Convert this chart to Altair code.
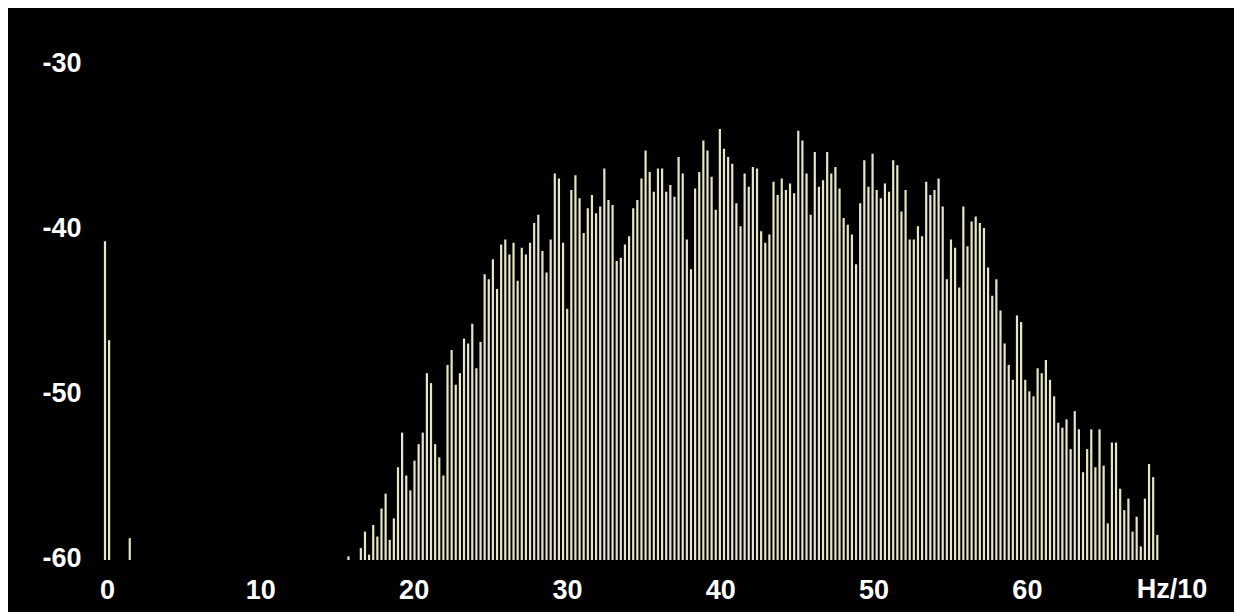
import altair as alt
import pandas as pd

# FFT bin indices (resolution 44100/16384 Hz per bin) and levels in dB
low_bins = [0, 1, 6, 59]
low_db = [-40.8, -46.8, -58.8, -59.9]

cluster_start = 62
cluster_db = [
    -59.4, -58.4, -59.8, -58.0, -58.7, -57.0, -56.1, -58.9, -57.6, -54.5,   # 62-71
    -52.4, -55.0, -55.9, -54.1, -53.1, -52.4, -48.8, -49.4, -53.1, -53.9,   # 72-81
    -55.0, -48.3, -47.4, -49.5, -48.8, -46.7, -47.0, -45.8, -48.5, -46.9,   # 82-91
    -42.8, -43.1, -41.9, -43.7, -41.0, -40.7, -41.6, -40.9, -43.2, -41.2,   # 92-101
    -41.6, -40.9, -39.7, -39.2, -41.4, -42.7, -40.7, -36.7, -37.0, -40.9,   # 102-111
    -44.9, -37.7, -36.8, -38.2, -40.3, -38.8, -38.0, -39.1, -38.7, -36.4,   # 112-121
    -38.3, -38.6, -42.0, -41.8, -41.0, -40.5, -38.8, -38.3, -37.0, -35.3,   # 122-131
    -36.6, -37.8, -36.4, -36.4, -37.8, -37.4, -38.1, -35.7, -36.7, -40.7,   # 132-141
    -42.5, -37.6, -36.6, -34.7, -35.3, -36.9, -38.9, -34.0, -35.2, -35.7,   # 142-151
    -36.1, -38.5, -39.9, -36.7, -37.5, -36.3, -36.4, -40.2, -40.9, -40.4,   # 152-161
    -37.2, -38.0, -37.0, -37.7, -37.3, -37.9, -34.1, -34.7, -36.7, -39.2,   # 162-171
    -35.4, -37.5, -37.1, -35.4, -36.7, -36.3, -37.6, -39.4, -39.8, -40.4,   # 172-181
    -42.2, -38.5, -35.9, -37.5, -35.5, -37.7, -38.2, -37.3, -37.8, -35.9,   # 182-191
    -36.2, -39.0, -37.7, -40.7, -40.7, -39.9, -40.5, -37.2, -38.0, -37.7,   # 192-201
    -37.0, -38.7, -43.1, -40.7, -41.2, -43.6, -38.7, -41.1, -39.6, -39.3,   # 202-211
    -39.7, -40.0, -42.4, -44.1, -43.1, -45.0, -47.0, -48.3, -49.2, -45.3,   # 212-221
    -45.7, -49.2, -49.9, -50.2, -48.5, -48.8, -48.0, -49.2, -50.2, -51.8,   # 222-231
    -52.1, -51.6, -53.4, -51.1, -52.2, -54.8, -53.4, -52.2, -54.5, -52.2,   # 232-241
    -54.4, -57.9, -53.0, -53.0, -55.8, -57.1, -56.4, -58.4, -57.5, -59.3,   # 242-251
    -56.4, -54.3, -55.1, -58.6,                                             # 252-255
]

bins = low_bins + [cluster_start + i for i in range(len(cluster_db))]
levels = low_db + cluster_db

x_ticks = [0, 10, 20, 30, 40, 50, 60]
y_ticks = [-30, -40, -50, -60]
unit_label = "Hz/10"

df = pd.DataFrame({"bin": bins, "db": levels})

FONT = "Liberation Sans"
BAR_COLOR = "#e6e5c6"

x_scale = alt.Scale(domain=[-0.9784, 70.118], nice=False, zero=False, padding=0)
y_scale = alt.Scale(domain=[-60.1212, -27.3939], nice=False, zero=False, padding=0)

label_style = dict(
    labelFont=FONT,
    labelFontSize=27,
    labelFontWeight="bold",
    labelColor="#ffffff",
    labelBaseline="middle",
    labelFlush=False,
    labelOverlap=False,
    labelExpr="'' + datum.value",
    domain=False,
    ticks=False,
    grid=False,
    title=None,
)

bars = (
    alt.Chart(df)
    .transform_calculate(hz10="datum.bin * 44100 / 16384 / 10", base="-60.1212")
    .mark_bar(color=BAR_COLOR, size=2.2)
    .encode(
        x=alt.X(
            "hz10:Q",
            scale=x_scale,
            axis=alt.Axis(values=x_ticks, labelPadding=30, labelOffset=2, **label_style),
        ),
        y=alt.Y(
            "db:Q",
            scale=y_scale,
            axis=alt.Axis(values=y_ticks, labelPadding=9, **label_style),
        ),
        y2="base:Q",
    )
)

unit = (
    alt.Chart(pd.DataFrame({"t": [unit_label], "pos": [69.59]}))
    .mark_text(
        font=FONT,
        fontSize=27,
        fontWeight="bold",
        color="#ffffff",
        align="center",
        baseline="middle",
    )
    .encode(x=alt.X("pos:Q", scale=x_scale), y=alt.value(570), text="t:N")
)

chart = (
    alt.layer(bars, unit)
    .properties(
        width=1090,
        height=540,
        autosize=alt.AutoSizeParams(type="none"),
        padding={"left": 82, "top": 12, "right": 54, "bottom": 52},
        background="#000000",
    )
    .configure_view(stroke=None)
)

chart.save("out.html", embed_options={"renderer": "svg", "actions": False})
